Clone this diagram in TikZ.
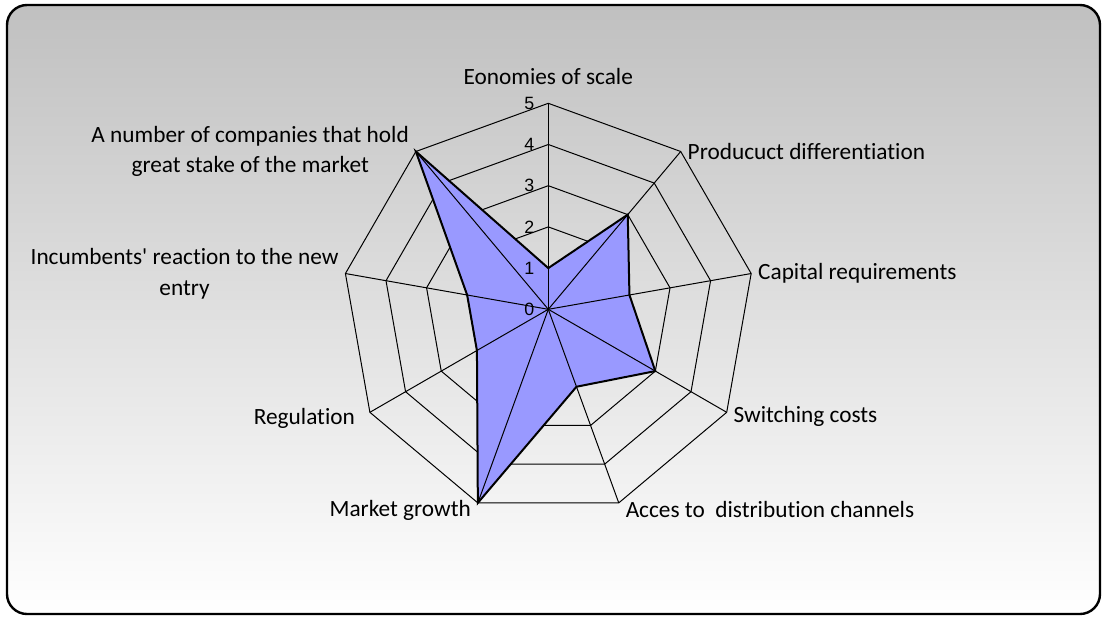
\documentclass[tikz,border=0pt]{standalone}
\usepackage{fontspec}
\setmainfont{Carlito}[Ligatures={NoCommon}, RawFeature={-liga;-clig}]
\newfontfamily\tickfont{Liberation Sans}

\definecolor{seriesblue}{HTML}{9999FF}
\definecolor{paneltop}{HTML}{C0C0C0}

\begin{document}
\begin{tikzpicture}[x=20.6pt,y=20.6pt,
  gridline/.style={draw=black,line width=0.5pt},
  axislabel/.style={font=\fontsize{11.65}{15.35}\selectfont,align=center,inner sep=3.3pt},
  ticklabel/.style={font=\tickfont\fontsize{8.9}{10}\selectfont,anchor=east,inner sep=0pt,xshift=-6.8pt}]

  \useasboundingbox (-274.15pt,-153.85pt) rectangle (277.35pt,154.65pt);

  % Chart area: gray to white panel with a rounded frame

  \path [top color=paneltop, bottom color=white, draw=black, line width=1.2pt,
    rounded corners=10pt] (-270.65pt,-152.35pt) rectangle (275.85pt,152.15pt);

  % Axis ends of the nine entry barriers

  \coordinate (O) at (0,0);
  \coordinate (ES) at (90:5);
  \coordinate (PD) at (50:5);
  \coordinate (CR) at (10:5);
  \coordinate (SC) at (-30:5);
  \coordinate (AD) at (-70:5);
  \coordinate (MG) at (-110:5);
  \coordinate (RG) at (-150:5);
  \coordinate (IR) at (170:5);
  \coordinate (NC) at (130:5);

  % Rings for the scale 1 to 5

  \draw [gridline] (90:1) -- (50:1) -- (10:1) -- (-30:1) -- (-70:1) -- (-110:1) -- (-150:1) -- (170:1) -- (130:1) -- cycle;
  \draw [gridline] (90:2) -- (50:2) -- (10:2) -- (-30:2) -- (-70:2) -- (-110:2) -- (-150:2) -- (170:2) -- (130:2) -- cycle;
  \draw [gridline] (90:3) -- (50:3) -- (10:3) -- (-30:3) -- (-70:3) -- (-110:3) -- (-150:3) -- (170:3) -- (130:3) -- cycle;
  \draw [gridline] (90:4) -- (50:4) -- (10:4) -- (-30:4) -- (-70:4) -- (-110:4) -- (-150:4) -- (170:4) -- (130:4) -- cycle;
  \draw [gridline] (ES) -- (PD) -- (CR) -- (SC) -- (AD) -- (MG) -- (RG) -- (IR) -- (NC) -- cycle;

  % Series: scores of the market

  \fill [seriesblue] (90:1) -- (50:3) -- (10:2) -- (-30:3) -- (-70:2) -- (-110:5) -- (-150:2) -- (170:2) -- (130:5) -- cycle;

  % Spokes from the centre

  \draw [gridline] (O) -- (ES);
  \draw [gridline] (O) -- (PD);
  \draw [gridline] (O) -- (CR);
  \draw [gridline] (O) -- (SC);
  \draw [gridline] (O) -- (AD);
  \draw [gridline] (O) -- (MG);
  \draw [gridline] (O) -- (RG);
  \draw [gridline] (O) -- (IR);
  \draw [gridline] (O) -- (NC);

  \draw [black, line width=1pt, line join=miter] (90:1) -- (50:3) -- (10:2) -- (-30:3) -- (-70:2) -- (-110:5) -- (-150:2) -- (170:2) -- (130:5) -- cycle;

  % Scale numbers on the upright axis

  \node [ticklabel] (t0) at (0,0) {0};
  \node [ticklabel] (t1) at (0,1) {1};
  \node [ticklabel] (t2) at (0,2) {2};
  \node [ticklabel] (t3) at (0,3) {3};
  \node [ticklabel] (t4) at (0,4) {4};
  \node [ticklabel] (t5) at (0,5) {5};

  % Category names

  \node [axislabel, anchor=south, yshift=5.7pt] (lES) at (ES) {Eonomies of scale};
  \node [axislabel, anchor=west] (lPD) at (PD) {Producuct differentiation};
  \node [axislabel, anchor=west] (lCR) at (CR) {Capital requirements};
  \node [axislabel, anchor=west, yshift=-2pt] (lSC) at (SC) {Switching costs};
  \node [axislabel, anchor=west, yshift=-3.5pt] (lAD) at (AD) {Acces to\ \ distribution channels};
  \node [axislabel, anchor=east, yshift=-4pt] (lMG) at (MG) {Market growth};
  \node [axislabel, anchor=east, xshift=-4pt, yshift=-3pt] (lRG) at (RG) {Regulation};
  \node [axislabel, anchor=east] (lIR) at (IR) {Incumbents\textquotesingle{} reaction to the new\\entry};
  \node [axislabel, anchor=east] (lNC) at (NC) {A number of companies that hold\\great stake of the market};
\end{tikzpicture}
\end{document}
